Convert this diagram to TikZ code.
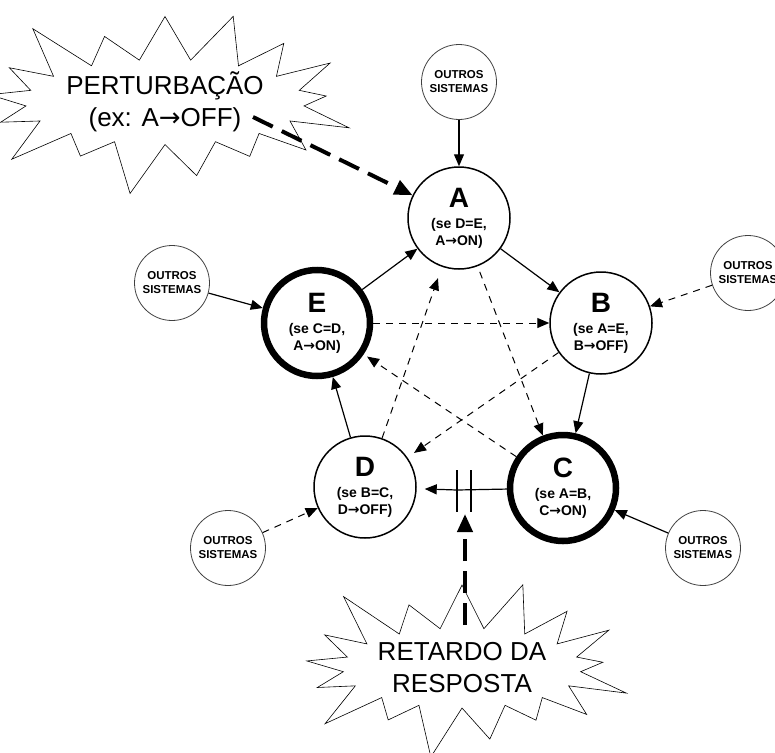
\documentclass[tikz,border=0pt]{standalone}
\usepackage{fontspec}
\setmainfont{Liberation Sans}
\newfontfamily\simbolo{DejaVu Sans}
\usetikzlibrary{arrows.meta, shapes.symbols}

\newcommand{\flecha}{{\simbolo →}}
\newcommand{\rotulo}[3]{{\fontsize{28}{28}\selectfont #1}\\[4pt](se #2,\\#3)}

\begin{document}
\begin{tikzpicture}[
    x=1pt, y=-1pt,
    est/.style={circle, draw, line width=1.5pt, minimum size=102pt, inner sep=0pt, align=center, font=\fontsize{14}{17}\selectfont\bfseries},
    ativo/.style={est, line width=6.5pt, minimum size=106pt},
    outro/.style={circle, draw=black!75, line width=0.8pt, minimum size=75pt, inner sep=0pt, align=center, font=\fontsize{11.5}{14}\selectfont\bfseries},
    choque/.style={starburst, draw, line width=0.6pt, starburst points=17, starburst point height=60pt, inner sep=0pt, align=center, font=\fontsize{26}{32}\selectfont},
    seta/.style={-{Triangle[length=12pt,width=10pt]}, line width=1.2pt},
    tracejada/.style={seta, line width=1pt, dash pattern=on 7pt off 6pt},
    forte/.style={-{Triangle[length=18pt,width=15pt]}, line width=4pt, dash pattern=on 22pt off 10pt}
]
\useasboundingbox (0,0) rectangle (775,752);

% estados
\node[est] (A) at (459,218) {\rotulo{A}{D=E}{A\flecha ON}};
\node[est] (B) at (601,323) {\rotulo{B}{A=E}{B\flecha OFF}};
\node[ativo] (C) at (563,488) {\rotulo{C}{A=B}{C\flecha ON}};
\node[est] (D) at (365,487) {\rotulo{D}{B=C}{D\flecha OFF}};
\node[ativo] (E) at (317,323) {\rotulo{E}{C=D}{A\flecha ON}};

% outros sistemas
\node[outro] (o1) at (459,82) {OUTROS\\SISTEMAS};
\node[outro] (o2) at (172,283) {OUTROS\\SISTEMAS};
\node[outro] (o3) at (748,273) {OUTROS\\SISTEMAS};
\node[outro] (o4) at (228,548) {OUTROS\\SISTEMAS};
\node[outro] (o5) at (703,548) {OUTROS\\SISTEMAS};

% perturbacao e retardo
\node[choque, minimum width=300pt, minimum height=205pt] (pert) at (165,102) {PERTURBAÇÃO\\(ex: A\flecha OFF)};
\node[choque, minimum width=315pt, minimum height=200pt] (ret) at (462,668) {RETARDO DA\\RESPOSTA};
\coordinate (pa) at (253,117);
\coordinate (rb) at (465,625);
\coordinate (r1) at (457,490);
\coordinate (rt) at (465,514);

% entradas externas
\draw[seta] (o1) -- (A);
\draw[seta] (o2) -- (E);
\draw[tracejada] (o3) -- (B);
\draw[tracejada] (o4) -- (D);
\draw[seta] (o5) -- (C);

% ciclo
\draw[seta] (A) -- (B);
\draw[seta] (B) -- (C);
\draw[seta] (D) -- (E);
\draw[seta] (E) -- (A);
\draw[tracejada, shorten <=6pt] (A) -- (C);
\draw[tracejada, shorten >=12pt] (D) -- (A);
\draw[tracejada] (E) -- (B);
\draw[tracejada, shorten >=8pt] (B) -- (D);
\draw[tracejada, shorten >=4pt] (C) -- (E);

% atraso entre C e D
\draw[line width=1.2pt] (C) -- (r1);
\draw[seta, shorten >=8pt] (r1) -- (D);
\draw[line width=1.2pt] (457,470) -- (457,512);
\draw[line width=1.2pt] (471,470) -- (471,512);

\draw[forte] (pa) -- (A);
\draw[forte] (rb) -- (rt);
\end{tikzpicture}
\end{document}
